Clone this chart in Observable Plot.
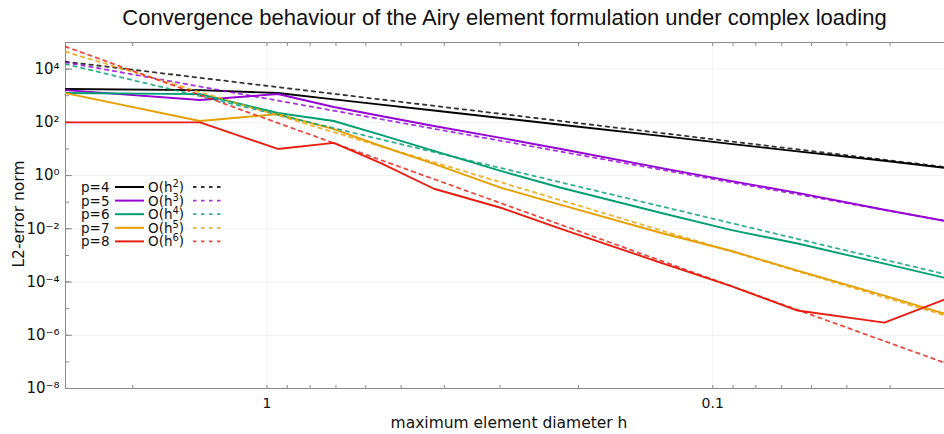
<!DOCTYPE html>
<html><head><meta charset="utf-8">
<script src="https://cdn.jsdelivr.net/npm/d3@7"></script>
<script src="https://cdn.jsdelivr.net/npm/@observablehq/plot@0.6"></script>
<style>
body{margin:0;background:#fff;}
#wrap{position:relative;width:944px;height:434px;overflow:hidden;background:#fff;}
#title{position:absolute;left:65px;width:879px;top:5px;text-align:center;font-family:"Liberation Sans",Arial,sans-serif;font-size:22px;color:#111;white-space:nowrap;}
#chart{position:absolute;left:0;top:36px;}
#ylab{position:absolute;left:19px;top:214px;transform:translate(-50%,-50%) rotate(-90deg);font-family:"DejaVu Sans",sans-serif;font-size:15.5px;color:#111;white-space:nowrap;}
#xlab{position:absolute;left:509px;top:423px;transform:translate(-50%,-50%);font-family:"DejaVu Sans",sans-serif;font-size:15.5px;color:#111;white-space:nowrap;}
#legend{position:absolute;left:0;top:0;}
</style></head>
<body>
<div id="wrap">
  <div id="title">Convergence behaviour of the Airy element formulation under complex loading</div>
  <div id="chart"></div>
  <div id="ylab">L2-error norm</div>
  <div id="xlab">maximum element diameter h</div>
  <svg id="legend" width="944" height="434"></svg>
</div>
<script>
// maximum element diameter h (shared grid)
const h = [2.83, 1.413, 0.945, 0.708, 0.555, 0.422, 0.299, 0.219, 0.131, 0.0912, 0.0645, 0.0412, 0.0302];
// L2 error for each polynomial degree p
const errP4 = [1780, 1630, 1260, 733, 463, 279, 146, 81, 31, 15.5, 8.1, 3.6, 1.95];
const errP5 = [1630, 690, 1160, 377, 173, 73, 26, 10, 1.95, 0.63, 0.224, 0.052, 0.02];
const errP6 = [1260, 1150, 224, 112, 34, 8.5, 1.5, 0.35, 0.04, 0.0091, 0.0028, 0.00049, 0.000145];
const errP7 = [1260, 112, 204, 56, 12.9, 2.75, 0.35, 0.079, 0.0071, 0.0015, 0.00027, 0.000031, 0.0000065];
const errP8 = [100, 100, 10, 17, 2.95, 0.32, 0.062, 0.01, 0.00054, 0.000072, 0.0000085, 0.000003, 0.000022];
// reference slopes O(h^k): end points
const refH = [2.83, 0.0302];
const refO2 = [19000, 2.1];
const refO3 = [18000, 0.02];
const refO4 = [15500, 0.0002];
const refO5 = [45000, 0.0000056];
const refO6 = [70000, 0.000000093];
// labels and colours
const pLabels = ["p=4", "p=5", "p=6", "p=7", "p=8"];
const orders = ["2", "3", "4", "5", "6"];
const colors = ["#000000", "#9400d3", "#009e73", "#e69f00", "#e51e10"];
const yTicks = [1e-8, 1e-6, 1e-4, 1e-2, 1, 1e2, 1e4];
const yMinor = [1e-8,1e-7,1e-6,1e-5,1e-4,1e-3,1e-2,1e-1,1,1e1,1e2,1e3,1e4];
const xTicks = [1, 0.1];
const xTickLabels = ["1", "0.1"];
const xMinor = [2, 1, 0.9, 0.8, 0.7, 0.6, 0.5, 0.4, 0.3, 0.2, 0.1, 0.09, 0.08, 0.07, 0.06, 0.05, 0.04, 0.03];

const errs = [errP4, errP5, errP6, errP7, errP8];
const refs = [refO2, refO3, refO4, refO5, refO6];

const solid = errs.flatMap((e, s) => h.map((x, i) => ({h: x, e: e[i], s: pLabels[s]})));
const dashed = refs.flatMap((r, s) => refH.map((x, i) => ({h: x, e: r[i], s: orders[s]})));

const supMap = {"-": "⁻", "0": "⁰", "1": "¹", "2": "²", "3": "³", "4": "⁴", "5": "⁵", "6": "⁶", "7": "⁷", "8": "⁸", "9": "⁹"};
const fmtY = d => "10" + String(Math.round(Math.log10(d))).split("").map(c => supMap[c]).join("");
const fmtX = d => xTickLabels[xTicks.findIndex(t => Math.abs(t - d) < 1e-9)];

const chart = Plot.plot({
  width: 944, height: 398,
  marginTop: 6, marginBottom: 46, marginLeft: 65, marginRight: 0,
  style: {fontFamily: "'DejaVu Sans', sans-serif", background: "transparent", color: "#111"},
  x: {type: "log", domain: [2.83, 0.0302]},
  y: {type: "log", domain: [1e-8, 1e5]},
  marks: [
    Plot.gridY(yTicks, {stroke: "#000", strokeOpacity: 0.05}),
    Plot.gridX(xTicks, {stroke: "#000", strokeOpacity: 0.05}),
    Plot.frame({stroke: "#8a8a8a", insetRight: -3}),
    Plot.axisY(yMinor, {tickSize: -4, tickFormat: () => "", stroke: "#8a8a8a", label: null}),
    Plot.axisY(yTicks, {tickSize: -7, tickFormat: () => "", stroke: "#8a8a8a", label: null}),
    Plot.axisY(yTicks, {tickSize: 0, tickPadding: 6, tickFormat: fmtY, fontSize: 15, label: null}),
    Plot.axisX(xMinor, {anchor: "bottom", tickSize: -3, tickFormat: () => "", stroke: "#8a8a8a", label: null}),
    Plot.axisX(xMinor, {anchor: "top", tickSize: -3, tickFormat: () => "", stroke: "#8a8a8a", label: null}),
    Plot.axisX(xTicks, {anchor: "bottom", tickSize: 0, tickPadding: 10, tickFormat: fmtX, fontSize: 14, label: null}),
    Plot.line(solid, {x: "h", y: "e", z: "s", stroke: d => colors[pLabels.indexOf(d.s)], strokeWidth: 1.9, clip: true}),
    Plot.line(dashed, {x: "h", y: "e", z: "s", stroke: d => colors[orders.indexOf(d.s)], strokeWidth: 1.8, strokeDasharray: "3.5,4.5", strokeOpacity: 0.8, clip: true})
  ]
});
document.getElementById("chart").appendChild(chart);

// legend
const lg = d3.select("#legend");
pLabels.forEach((p, i) => {
  const y = 187 + 13.6 * i;
  lg.append("text").attr("x", 81).attr("y", y + 5).attr("font-family", "DejaVu Sans, sans-serif").attr("font-size", 13.5).attr("fill", "#111").text(p);
  lg.append("line").attr("x1", 115).attr("x2", 144).attr("y1", y).attr("y2", y).attr("stroke", colors[i]).attr("stroke-width", 2);
  const t = lg.append("text").attr("x", 148).attr("y", y + 5).attr("font-family", "DejaVu Sans, sans-serif").attr("font-size", 13.5).attr("fill", "#111");
  t.append("tspan").text("O(h");
  t.append("tspan").attr("dy", -5).attr("font-size", 10).text(orders[i]);
  t.append("tspan").attr("dy", 5).text(")");
  lg.append("line").attr("x1", 193).attr("x2", 222).attr("y1", y).attr("y2", y).attr("stroke", colors[i]).attr("stroke-width", 1.8).attr("stroke-dasharray", "3.5,4.5").attr("stroke-opacity", 0.8);
});
</script>
</body></html>
